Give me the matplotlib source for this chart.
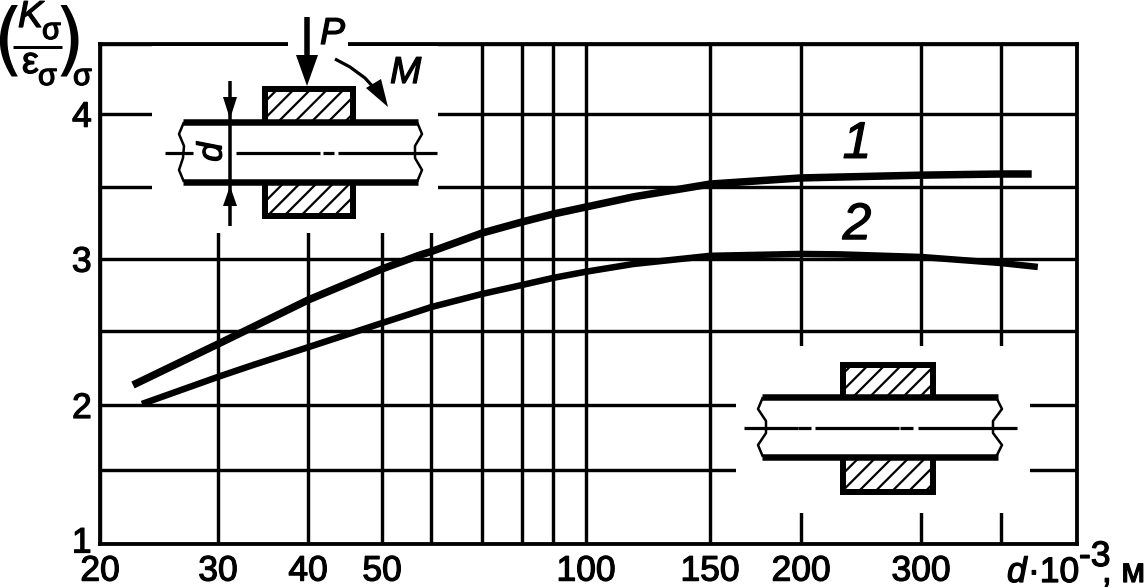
import numpy as np
from matplotlib import pyplot as plt
from matplotlib.patches import Rectangle, Polygon
from matplotlib.transforms import ScaledTranslation
import matplotlib.patheffects as pe

plt.rcParams['font.family'] = ['Liberation Sans', 'DejaVu Sans']
plt.rcParams['hatch.linewidth'] = 1.6
W, H = 1145, 588
PT = 0.72  # px to points at dpi 100
BOLD = [pe.withStroke(linewidth=0.9, foreground='k')]

# curves
d1 = [22.4, 30, 33.55, 40, 50, 57.6, 60, 70, 80, 90, 100, 116.6, 150, 200, 300, 400, 438]
k1 = [2.135, 2.412, 2.528, 2.714, 2.929, 3.026, 3.049, 3.178, 3.255, 3.31, 3.359, 3.429,
      3.518, 3.56, 3.579, 3.587, 3.587]
d2 = [23.1, 30, 33.55, 40, 50, 57.6, 60, 70, 80, 90, 100, 116.6, 150, 200, 228, 300, 400, 446]
k2 = [2.007, 2.19, 2.27, 2.39, 2.555, 2.64, 2.665, 2.756, 2.818, 2.867, 2.91, 2.963,
      3.02, 3.033, 3.03, 3.012, 2.97, 2.943]

# axis grid values and labels
x_vals = [20, 30, 40, 50, 60, 70, 80, 90, 100, 150, 200, 300, 400, 500]
x_labels = ['20', '30', '40', '50', '', '', '', '', '100', '150', '200', '300', '', '']
y_vals = [1, 1.5, 2, 2.5, 3, 3.5, 4, 4.5]
y_labels = ['1', '', '2', '', '3', '', '4', '']

# the printed scales are not exactly log/linear, so they are calibrated to the sheet
x_pos = [100, 218, 308, 382, 431, 482, 522, 553, 586, 710, 801, 921, 1001, 1076.5]
y_pos = [-543.5, -470, -405, -331, -258.7, -186.7, -113.7, -43.7]
log_x = np.log10(x_vals)


def x_fwd(v):
    return np.interp(np.log10(np.maximum(v, 1e-3)), log_x, x_pos)


def x_inv(p):
    return 10 ** np.interp(p, x_pos, log_x)


def y_fwd(v):
    return np.interp(v, y_vals, y_pos)


def y_inv(p):
    return np.interp(p, y_pos, y_vals)


fig = plt.figure(figsize=(W / 100, H / 100), dpi=100)
ax = fig.add_axes([100 / W, 1 - 543.5 / H, (1076.5 - 100) / W, (543.5 - 43.7) / H])
ax.set_xscale('function', functions=(x_fwd, x_inv))
ax.set_yscale('function', functions=(y_fwd, y_inv))
ax.set_xlim(20, 500)
ax.set_ylim(1, 4.5)
ax.set_xticks(x_vals, x_labels)
ax.set_yticks(y_vals, y_labels)
ax.minorticks_off()
ax.grid(True, color='k', lw=3.4 * PT)
ax.set_axisbelow(True)
ax.tick_params(length=0, labelsize=25.5, pad=8, colors='k')
ax.tick_params(axis='y', pad=6)
for lab in ax.get_xticklabels() + ax.get_yticklabels():
    lab.set_path_effects(BOLD)
for s in ax.spines.values():
    s.set_linewidth(3.8 * PT)

# the "1" sits a little above the bottom line on the sheet
one = ax.get_yticklabels()[0]
one.set_transform(one.get_transform() + ScaledTranslation(0, 4 / 100, fig.dpi_scale_trans))

ax.plot(d1, k1, color='k', lw=7.5 * PT, solid_capstyle='butt', solid_joinstyle='round')
ax.plot(d2, k2, color='k', lw=6.5 * PT, solid_capstyle='butt', solid_joinstyle='round')
ax.text(x_inv(857), 3.79, '1', style='italic', fontsize=37, ha='center', va='center', path_effects=BOLD)
ax.text(x_inv(857), 3.23, '2', style='italic', fontsize=37, ha='center', va='center', path_effects=BOLD)

# overlay in sheet pixels for the shaft sketches and the formula
ov = fig.add_axes([0, 0, 1, 1], facecolor='none')
ov.set_xlim(0, W)
ov.set_ylim(H, 0)
ov.axis('off')

# gaps in the grid around the sketches
for x0, y0, x1, y1 in [(152, 46, 438, 233), (288, 40, 348, 48), (736, 346, 1030, 513)]:
    ov.add_patch(Rectangle((x0, y0), x1 - x0, y1 - y0, fc='w', ec='none', zorder=1))


def block(x0, y0, x1, y1):
    ov.add_patch(Rectangle((x0, y0), x1 - x0, y1 - y0, fc='w', ec='k', lw=6 * PT,
                           hatch='//', joinstyle='miter', zorder=2))


def poly(xs, ys, lw):
    ov.plot(xs, ys, color='k', lw=lw * PT, solid_capstyle='butt', zorder=3)


def shaft(x0, x1, y0, y1, yc, left, right, axis):
    ov.add_patch(Rectangle((x0, y0), x1 - x0, y1 - y0, fc='w', ec='none', zorder=3))
    poly([x0 - 1, x1 + 1], [y0, y0], 6.5)
    poly([x0 - 1, x1 + 1], [y1, y1], 6.5)
    poly(left, np.linspace(y0, y1, len(left)), 2.5)
    poly(right, np.linspace(y0, y1, len(right)), 2.5)
    for a, b in axis:
        poly([a, b], [yc, yc], 3.2)


# upper sketch (shaft under load)
block(265, 89, 353, 125)
block(265, 180, 353, 215.5)
shaft(184, 417, 122, 182, 153,
      [184, 179, 184, 183, 179, 184], [417, 422, 415, 415, 422, 417],
      [(165, 193), (236, 320), (323, 334), (338, 437)])

poly([230, 230], [81, 226], 3.5)
ov.add_patch(Polygon([(230, 119), (223, 97), (237, 97)], fc='k', ec='none', zorder=4))
ov.add_patch(Polygon([(230, 186), (223, 206), (237, 206)], fc='k', ec='none', zorder=4))
ov.text(212, 152, 'd', style='italic', fontsize=25, rotation=90, ha='center', va='center',
        zorder=5, path_effects=BOLD)

poly([307, 307], [17, 60], 5.5)
ov.add_patch(Polygon([(307, 86), (296, 55), (318, 55)], fc='k', ec='none', zorder=4))
ov.text(320, 44, 'P', style='italic', fontsize=27, ha='left', va='baseline', zorder=5, path_effects=BOLD)
ov.text(390, 83, 'M', style='italic', fontsize=27, ha='left', va='baseline', zorder=5, path_effects=BOLD)
poly([335, 350, 365, 375], [59, 67, 78, 89], 3.2)
ov.add_patch(Polygon([(388, 107), (366, 88), (381, 79)], fc='k', ec='none', zorder=4))

# lower sketch
block(843, 365, 933, 400)
block(843, 455, 933, 492)
shaft(763, 997, 397, 457, 428,
      [763, 758, 766, 766, 758, 763], [996, 1002, 993, 993, 1002, 996],
      [(744, 798), (798, 811), (815, 899), (900, 913), (918, 1017)])

# y axis formula
ov.text(-8, 44, '(', family='DejaVu Sans', fontsize=58, ha='left', va='center', zorder=5)
ov.text(53, 44, ')', family='DejaVu Sans', fontsize=58, ha='left', va='center', zorder=5)
ov.text(18, 27, 'K', style='italic', fontsize=27, ha='left', va='baseline', path_effects=BOLD)
ov.text(42, 39, 'σ', fontsize=22, ha='left', va='baseline', path_effects=BOLD)
poly([13, 62], [47, 47], 3)
ov.text(22, 73, 'ε', fontsize=27, ha='left', va='baseline', path_effects=BOLD)
ov.text(38, 85, 'σ', fontsize=22, ha='left', va='baseline', path_effects=BOLD)
ov.text(73, 85, 'σ', fontsize=22, ha='left', va='baseline', path_effects=BOLD)

# x axis caption
ov.text(1007, 582, 'd', style='italic', fontsize=25.5, ha='left', va='baseline', path_effects=BOLD)
ov.text(1028, 582, '·10', fontsize=25.5, ha='left', va='baseline', path_effects=BOLD)
ov.text(1079, 566, '-3', fontsize=25.5, ha='left', va='baseline', path_effects=BOLD)
ov.text(1102, 582, ', м', fontsize=25, ha='left', va='baseline', path_effects=BOLD)

fig.savefig('out.png', dpi=100)
